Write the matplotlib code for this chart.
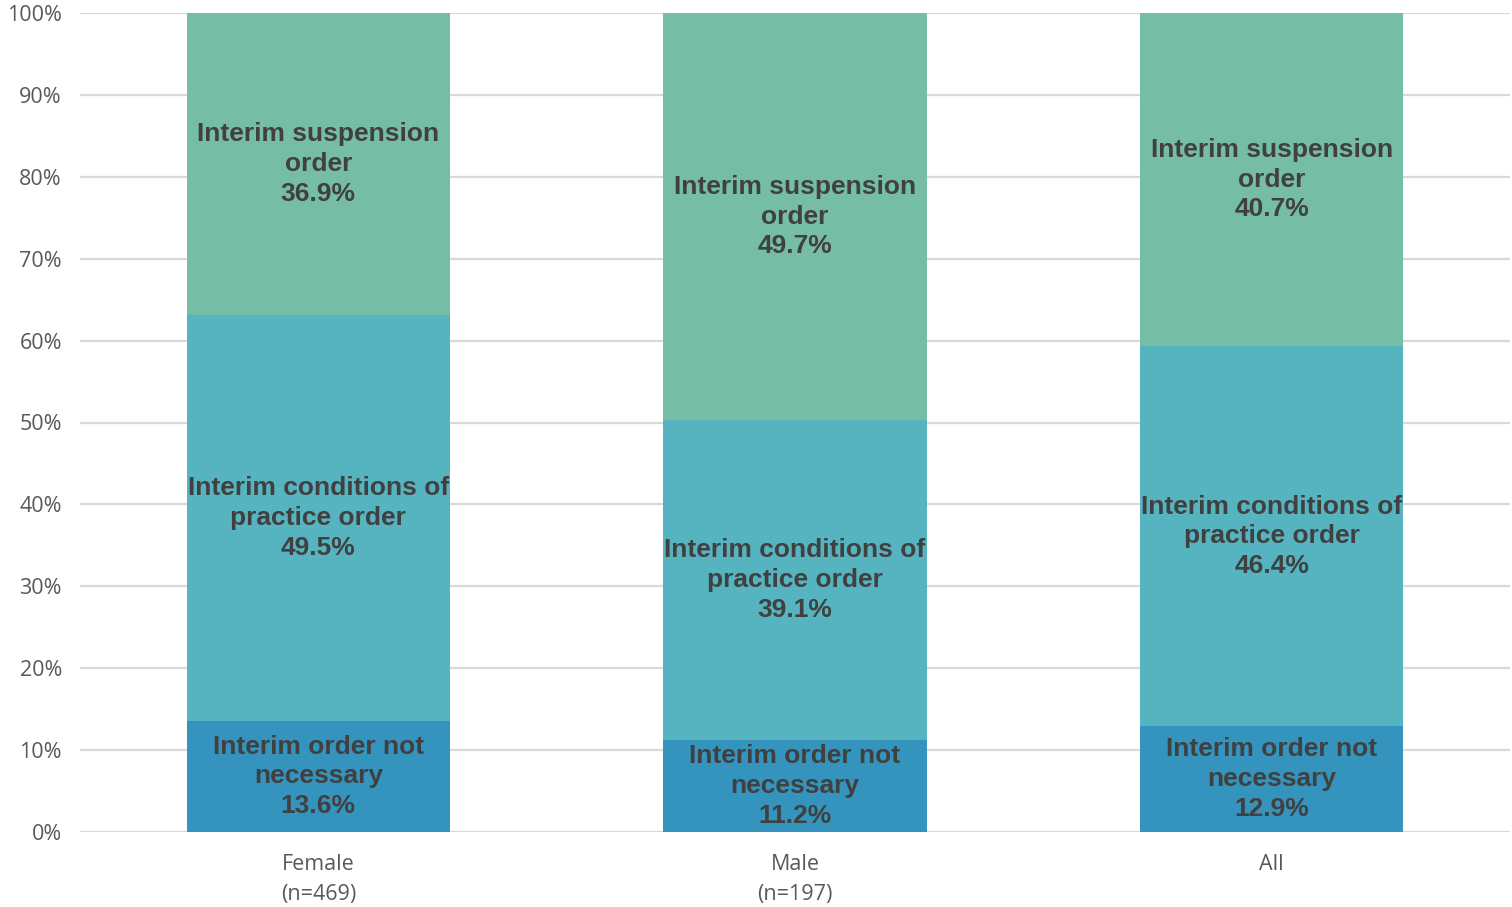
import matplotlib.pyplot as plt
import numpy as np

categories = ["Female\n(n=469)", "Male\n(n=197)", "All"]
series_names = ["Interim order not\nnecessary",
                "Interim conditions of\npractice order",
                "Interim suspension\norder"]
not_necessary = [13.6, 11.2, 12.9]
conditions = [49.5, 39.1, 46.4]
suspension = [36.9, 49.7, 40.7]
yticks = list(range(0, 101, 10))
colors = ["#3494BD", "#56B4C0", "#76BDA5"]

fig = plt.figure(figsize=(15.12, 9.07), dpi=100)
ax = fig.add_axes([80 / 1512, 75 / 907, 1430 / 1512, 819 / 907])

x = np.arange(len(categories))
bottom = np.zeros(len(categories))
for name, vals, col in zip(series_names, [not_necessary, conditions, suspension], colors):
    vals = np.array(vals)
    ax.bar(x, vals, width=0.553, bottom=bottom, color=col, zorder=2)
    for xi, b, v in zip(x, bottom, vals):
        ax.text(xi, b + v / 2, f"{name}\n{v:.1f}%", ha="center", va="center",
                fontsize=19, fontweight="bold", color="#404040",
                family="Liberation Sans", linespacing=1.3, zorder=3)
    bottom += vals

ax.set_xlim(-0.5, 2.5)
ax.set_ylim(0, 100)
ax.set_yticks(yticks)
ax.set_yticklabels([f"{t}%" for t in yticks])
ax.set_xticks(x)
ax.set_xticklabels(categories, linespacing=1.55)
ax.yaxis.grid(True, color="#D9D9D9", linewidth=1.6, zorder=0)
ax.set_axisbelow(True)
for s in ax.spines.values():
    s.set_visible(False)
ax.tick_params(axis="both", length=0, labelcolor="#595959", labelsize=15.5)
ax.tick_params(axis="y", pad=13)
ax.tick_params(axis="x", pad=16)
for lbl in ax.get_xticklabels() + ax.get_yticklabels():
    lbl.set_family("Open Sans")

fig.savefig("out.png", dpi=100)
